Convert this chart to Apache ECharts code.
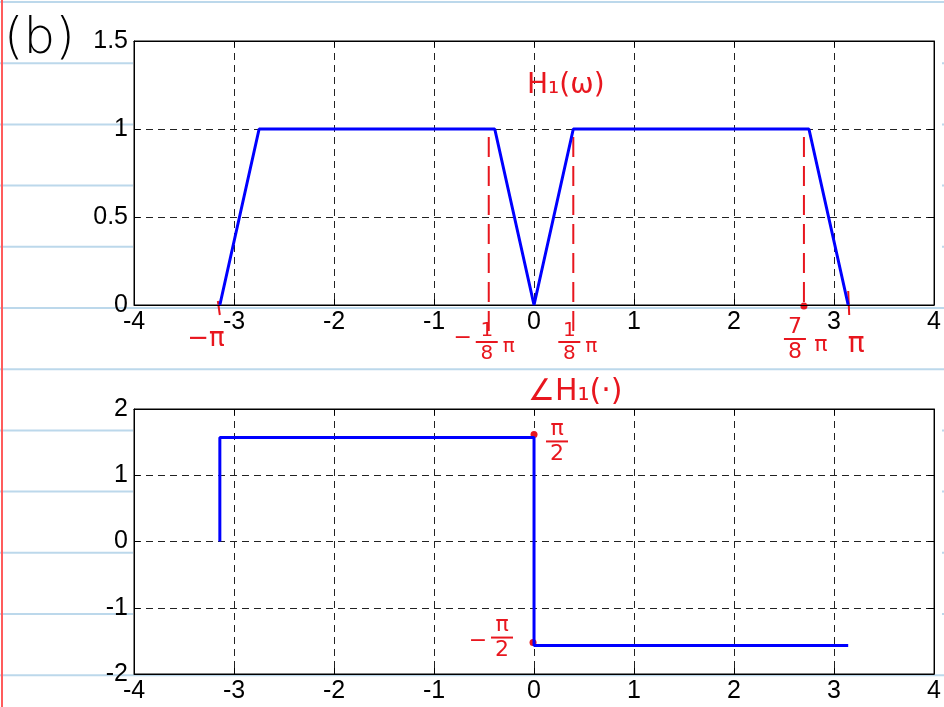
<!DOCTYPE html>
<html><head><meta charset="utf-8">
<script src="https://cdn.jsdelivr.net/npm/echarts@6/dist/echarts.min.js"></script>
<style>html,body{margin:0;padding:0;background:#fff;overflow:hidden}#c{width:944px;height:707px}</style>
</head><body><div id="c"></div>
<script>
// ---- data ----
const xTicks = [-4, -3, -2, -1, 0, 1, 2, 3, 4];
const magTicks = [0, 0.5, 1, 1.5];
const phaseTicks = [-2, -1, 0, 1, 2];
const magW = [-3.1416, -2.7489, -0.3927, 0, 0.3927, 2.7489, 3.1416];
const magH = [0, 1, 1, 0, 1, 1, 0];
const phaseW = [-3.1416, -3.1416, 0, 0, 3.1416];
const phaseH = [0, 1.5708, 1.5708, -1.5708, -1.5708];
const markW = [-0.3927, 0.3927, 2.7489];   // hand-drawn dashed markers
const PI = 3.1416, HALF_PI = 1.5708;

const chart = echarts.init(document.getElementById('c'), null, {renderer: 'canvas'});
const FONT = 'Liberation Sans';
const LBL = 25;
function xAx(gi, top) {
  return {
    type: 'value', gridIndex: gi, position: top ? 'top' : 'bottom',
    min: xTicks[0], max: xTicks[xTicks.length - 1], interval: 1,
    axisLine: {onZero: false, lineStyle: {color: '#000', width: 1}},
    axisTick: {inside: true, length: 6, lineStyle: {color: '#000'}},
    axisLabel: {show: !top, color: '#000', fontSize: LBL, fontFamily: FONT, margin: 5, showMaxLabel: true},
    splitLine: {show: !top, lineStyle: {color: '#222', type: [7, 5], width: 1}}
  };
}
function yAx(gi, ticks, right) {
  return {
    type: 'value', gridIndex: gi, position: right ? 'right' : 'left',
    min: ticks[0], max: ticks[ticks.length - 1], interval: ticks[1] - ticks[0],
    axisLine: {show: true, onZero: false, lineStyle: {color: '#000', width: 1}},
    axisTick: {show: true, inside: true, length: 6, lineStyle: {color: '#000'}},
    axisLabel: {show: !right, color: '#000', fontSize: LBL, fontFamily: FONT, margin: 6},
    splitLine: {show: !right, lineStyle: {color: '#222', type: [7, 5], width: 1}}
  };
}
const lineStyle = {color: '#0000ff', width: 3};
chart.setOption({
  animation: false,
  backgroundColor: '#fff',
  grid: [
    {left: 134, top: 41, width: 806, height: 264, show: true, borderColor: '#000', borderWidth: 1, backgroundColor: '#fff'},
    {left: 134, top: 409, width: 806, height: 265, show: true, borderColor: '#000', borderWidth: 1, backgroundColor: '#fff'}
  ],
  xAxis: [xAx(0, false), xAx(1, false), xAx(0, true), xAx(1, true)],
  yAxis: [yAx(0, magTicks, false), yAx(1, phaseTicks, false), yAx(0, magTicks, true), yAx(1, phaseTicks, true)],
  series: [
    {type: 'line', xAxisIndex: 0, yAxisIndex: 0, showSymbol: false, lineStyle, z: 5,
     data: magW.map((w, i) => [w, magH[i]])},
    {type: 'line', xAxisIndex: 1, yAxisIndex: 1, showSymbol: false, lineStyle, z: 5,
     data: phaseW.map((w, i) => [w, phaseH[i]])}
  ]
});

// ---- decorations: notebook paper + handwritten annotations ----
const P = (gi, x, y) => chart.convertToPixel({xAxisIndex: gi, yAxisIndex: gi}, [x, y]);
const RED = '#e8161e';
const HAND = 'DejaVu Sans';
const g = [];
const boxes = [[41, 305], [409, 674]];
for (let k = 0; k < 12; k++) {
  const y = 2 + 61.2 * k;
  const inBox = boxes.some(b => y > b[0] && y < b[1]);
  if (inBox) {
    g.push({type: 'line', shape: {x1: 0, y1: y, x2: 133, y2: y}, style: {stroke: '#bcd8eb', lineWidth: 2}});
    g.push({type: 'line', shape: {x1: 942, y1: y, x2: 944, y2: y}, style: {stroke: '#bcd8eb', lineWidth: 2}});
  } else {
    g.push({type: 'line', shape: {x1: 0, y1: y, x2: 944, y2: y}, style: {stroke: '#bcd8eb', lineWidth: 2}});
  }
}
g.push({type: 'line', shape: {x1: 2, y1: 0, x2: 2, y2: 707}, style: {stroke: '#ff5c5c', lineWidth: 2}});
g.push({type: 'text', x: 4, y: 40, style: {text: '(b)', font: '300 50px ' + HAND, fill: '#000', textVerticalAlign: 'middle'}});

function txt(x, y, s, size, align) {
  g.push({type: 'text', x, y, style: {text: s, font: size + 'px ' + HAND, fill: RED, textAlign: align || 'center', textVerticalAlign: 'middle'}});
}
function seg(x1, y1, x2, y2, dash) {
  g.push({type: 'line', shape: {x1, y1, x2, y2}, style: {stroke: RED, lineWidth: 2, lineDash: dash || null}});
}
function dot(x, y) {
  g.push({type: 'circle', shape: {cx: x, cy: y, r: 3.5}, style: {fill: RED}});
}
function frac(cx, top, num, den, size) {
  txt(cx, top + size * 0.45, num, size);
  seg(cx - 11, top + size * 1.0, cx + 11, top + size * 1.0);
  txt(cx, top + size * 1.6, den, size);
}

// magnitude markers
markW.forEach((w, i) => {
  const pTop = P(0, w, 1), pBot = P(0, w, 0);
  const x = pTop[0] - (i === 0 ? 6 : i === 2 ? 5 : 0);
  const yEnd = i === 2 ? pBot[1] + 1 : pBot[1] + 26;
  seg(x, pTop[1] + 8, x, yEnd, [20, 9]);
  if (i === 2) dot(x, pBot[1] + 1);
});
const pPi = P(0, PI, 0), pNPi = P(0, -PI, 0);
seg(pPi[0], pPi[1] - 14, pPi[0] + 1, pPi[1] + 10);
seg(pNPi[0] - 2, pNPi[1] - 4, pNPi[0], pNPi[1] + 10);
txt(pNPi[0] - 14, pNPi[1] + 34, '−π', 26);
const pM8 = P(0, -0.3927, 0), pP8 = P(0, 0.3927, 0), p78 = P(0, 2.7489, 0);
txt(pM8[0] - 32, pM8[1] + 33, '−', 22);
frac(pM8[0] - 8, pM8[1] + 17, '1', '8', 20);
txt(pM8[0] + 14, pM8[1] + 42, 'π', 20);
frac(pP8[0] - 4, pP8[1] + 17, '1', '8', 20);
txt(pP8[0] + 18, pP8[1] + 42, 'π', 20);
frac(p78[0] - 14, p78[1] + 12, '7', '8', 22);
txt(p78[0] + 12, p78[1] + 40, 'π', 22);
txt(pPi[0] + 8, pPi[1] + 40, 'π', 28);

txt(527, 86, 'H₁(ω)', 28, 'left');

// phase annotations
txt(528, 392, '∠H₁(·)', 30, 'left');
const pTopJ = P(1, 0, HALF_PI), pBotJ = P(1, 0, -HALF_PI);
dot(pTopJ[0], pTopJ[1] - 3);
dot(pBotJ[0] - 1, pBotJ[1] - 3);
frac(pTopJ[0] + 23, pTopJ[1] - 18, 'π', '2', 22);
txt(pBotJ[0] - 56, pBotJ[1] - 4, '−', 22);
frac(pBotJ[0] - 32, pBotJ[1] - 30, 'π', '2', 22);

chart.setOption({graphic: {elements: g}});
</script>
</body></html>
